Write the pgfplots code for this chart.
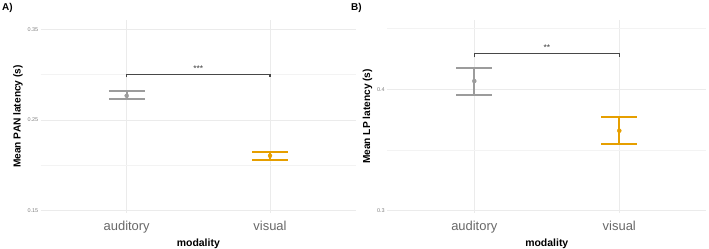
\documentclass[border=0pt]{standalone}
\usepackage{pgfplots}
\pgfplotsset{compat=1.18}
\usepackage{fontspec}
\setmainfont{Liberation Sans}
\definecolor{cgray}{HTML}{9C9C9C}
\definecolor{corange}{HTML}{E69F00}
\definecolor{gridc}{HTML}{EBEBEB}
\definecolor{tickc}{HTML}{4D4D4D}
\pgfplotsset{
  myax/.style={
    scale only axis, anchor=south west,
    axis line style={draw=none},
    major tick length=0pt, minor tick length=0pt,
    xmin=0.4, xmax=2.6,
    xtick={1,2}, xticklabels={auditory,visual},
    xmajorgrids, ymajorgrids, yminorgrids,
    major grid style={gridc, line width=0.6pt},
    minor grid style={gridc!60, line width=0.4pt},
    unbounded coords=jump,
    /pgf/number format/assume math mode=true,
    xticklabel style={font=\fontsize{13}{13}\selectfont, text=tickc!85, yshift=-5pt},
    yticklabel style={font=\fontsize{5.5}{6}\selectfont, text=gray, xshift=1pt},
    xlabel={\bfseries modality},
    xlabel style={font=\fontsize{10.5}{11}\selectfont, yshift=2pt},
    ylabel style={font=\fontsize{10.2}{11}\selectfont, yshift=-2pt},
  },
  ebar/.style={draw=#1, line width=1.8pt},
  emean/.style={only marks, mark=*, mark size=2pt, mark options={draw=#1, fill=#1}},
}
\begin{document}
\begin{tikzpicture}
\path[use as bounding box] (0,0) rectangle (709bp,249bp);
\node[anchor=north west, font=\bfseries\fontsize{10}{10}\selectfont, inner sep=0pt] at (2bp,246bp) {A)};
\node[anchor=north west, font=\bfseries\fontsize{10}{10}\selectfont, inner sep=0pt] at (351bp,246bp) {B)};
\begin{axis}[myax, at={(40.7bp,36bp)}, width=315.3bp, height=193bp,
  ymin=0.1475, ymax=0.3603,
  ytick={0.15,0.25,0.35}, minor ytick={0.2,0.3},
  yticklabels={0.15,0.25,0.35},
  ylabel={\bfseries Mean PAN latency (s)}]
% auditory: mean 0.2768, range 0.2728-0.2823
\addplot[ebar=cgray] coordinates {(0.875,0.2823) (1.125,0.2823) (nan,nan) (0.875,0.2728) (1.125,0.2728) (nan,nan) (1,0.2728) (1,0.2823)};
\addplot[emean=cgray] coordinates {(1,0.2768)};
% visual: mean 0.2106, range 0.2059-0.2150
\addplot[ebar=corange] coordinates {(1.875,0.2150) (2.125,0.2150) (nan,nan) (1.875,0.2059) (2.125,0.2059) (nan,nan) (2,0.2059) (2,0.2150)};
\addplot[emean=corange] coordinates {(2,0.2106)};
\addplot[black!72, line width=1.2pt] coordinates {(1,0.297) (1,0.300) (2,0.300) (2,0.297)};
\node[font=\fontsize{8.5}{8.5}\selectfont, text=black!75] at (axis cs:1.5,0.307) {***};
\end{axis}
\begin{axis}[myax, at={(387.3bp,36bp)}, width=319bp, height=193bp,
  ymin=0.2981, ymax=0.4571,
  ytick={0.3,0.4}, minor ytick={0.35,0.45},
  yticklabels={0.3,0.4},
  ylabel={\bfseries Mean LP latency (s)}]
% auditory: mean 0.4068, range 0.3956-0.4178
\addplot[ebar=cgray] coordinates {(0.875,0.4178) (1.125,0.4178) (nan,nan) (0.875,0.3956) (1.125,0.3956) (nan,nan) (1,0.3956) (1,0.4178)};
\addplot[emean=cgray] coordinates {(1,0.4068)};
% visual: mean 0.3659, range 0.3547-0.3769
\addplot[ebar=corange] coordinates {(1.875,0.3769) (2.125,0.3769) (nan,nan) (1.875,0.3547) (2.125,0.3547) (nan,nan) (2,0.3547) (2,0.3769)};
\addplot[emean=corange] coordinates {(2,0.3659)};
\addplot[black!72, line width=1.2pt] coordinates {(1,0.4264) (1,0.4297) (2,0.4297) (2,0.4264)};
\node[font=\fontsize{8.5}{8.5}\selectfont, text=black!75] at (axis cs:1.5,0.4345) {**};
\end{axis}
\end{tikzpicture}
\end{document}
